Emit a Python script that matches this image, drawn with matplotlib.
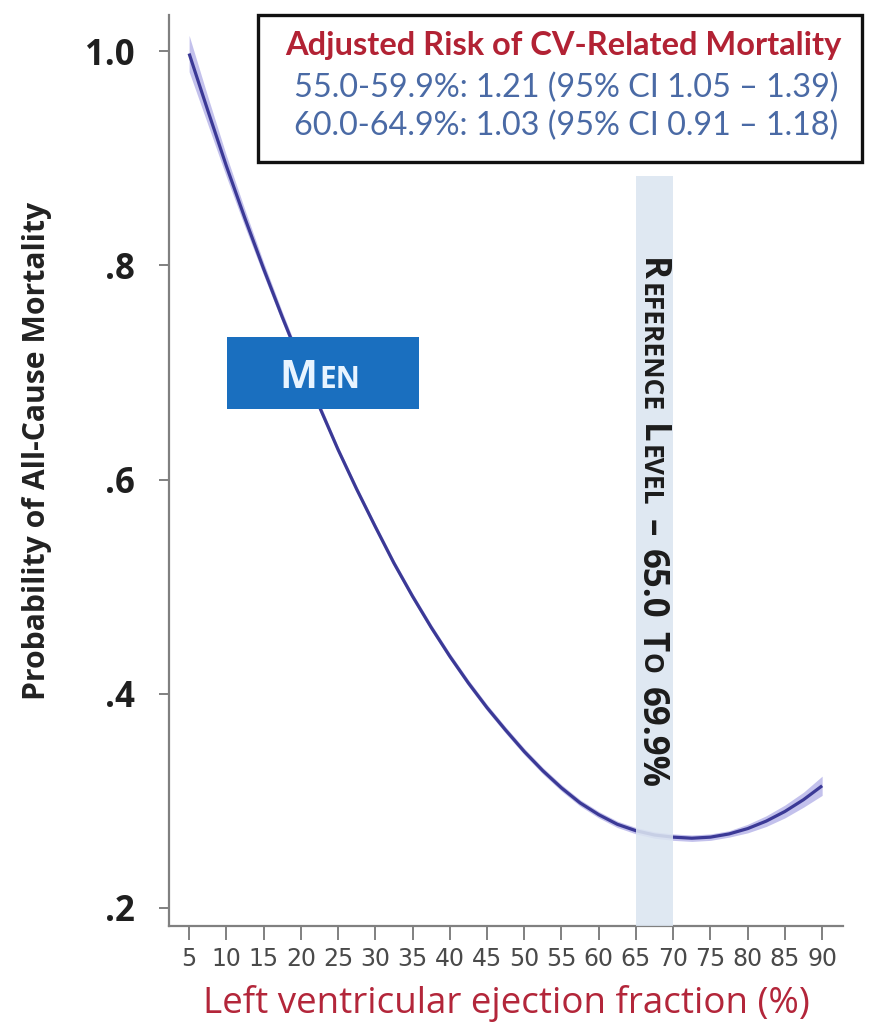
import matplotlib
matplotlib.use("Agg")
import matplotlib.pyplot as plt
from matplotlib.patches import Rectangle

# Ejection fraction (%) and fitted probability of all-cause mortality (men)
ef = [5, 7.5, 10, 12.5, 15, 17.5, 20, 22.5, 25, 27.5, 30, 32.5, 35, 37.5,
      40, 42.5, 45, 47.5, 50, 52.5, 55, 57.5, 60, 62.5, 65, 67.5, 70, 72.5,
      75, 77.5, 80, 82.5, 85, 87.5, 90]
prob = [0.998, 0.945, 0.893, 0.844, 0.797, 0.752, 0.709, 0.668, 0.628, 0.591,
        0.556, 0.522, 0.491, 0.462, 0.435, 0.410, 0.387, 0.366, 0.346, 0.328,
        0.312, 0.298, 0.287, 0.278, 0.272, 0.268, 0.266, 0.265, 0.266, 0.269,
        0.274, 0.281, 0.290, 0.301, 0.314]
ci_half = [0.017, 0.013, 0.010, 0.008, 0.006, 0.005, 0.004, 0.004, 0.003, 0.003,
           0.003, 0.003, 0.003, 0.003, 0.003, 0.003, 0.003, 0.003, 0.003, 0.003,
           0.003, 0.003, 0.003, 0.003, 0.003, 0.003, 0.003, 0.003, 0.003, 0.003,
           0.004, 0.005, 0.006, 0.007, 0.009]

ref_band = [65, 70]
ref_band_top = 0.884

x_ticks = [5, 10, 15, 20, 25, 30, 35, 40, 45, 50, 55, 60, 65, 70, 75, 80, 85, 90]
y_ticks = [0.2, 0.4, 0.6, 0.8, 1.0]
y_tick_labels = [".2", ".4", ".6", ".8", "1.0"]

header_title = "Adjusted Risk of CV-Related Mortality"
header_lines = ["55.0-59.9%: 1.21 (95% CI 1.05 \u2013 1.39)",
                "60.0-64.9%: 1.03 (95% CI 0.91 \u2013 1.18)"]
group_label = [("M", "big"), ("EN", "small")]
ref_label = [("R", "big", 0), ("EFERENCE", "small", 1.2), ("L", "big", 9),
             ("EVEL", "small", 1.2), ("\u2013", "big", 9), ("65.0", "big", 9),
             ("T", "big", 9), ("O", "small", 1.2), ("69.9%", "big", 9)]

W, H = 880, 1032
AX_L, AX_R, AX_T, AX_B = 169, 843, 15, 926

fig = plt.figure(figsize=(W / 100, H / 100), dpi=100)
ax = fig.add_axes([AX_L / W, 1 - AX_B / H, (AX_R - AX_L) / W, (AX_B - AX_T) / H])


def afrac(px, py):
    """Pixel position on the canvas -> axes fraction."""
    return (px - AX_L) / (AX_R - AX_L), (AX_B - py) / (AX_B - AX_T)


def ffrac(px, py):
    return px / W, 1 - py / H


lo = [p - c for p, c in zip(prob, ci_half)]
hi = [p + c for p, c in zip(prob, ci_half)]
ax.fill_between(ef, lo, hi, color="#c3c1ec", lw=0, zorder=2)
ax.plot(ef, prob, color="#3b3996", lw=2.3, zorder=3, solid_capstyle="butt")

ax.fill_between(ref_band, [ax.get_ylim()[0] - 1] * 2, [ref_band_top] * 2,
                color="#dbe5f1", alpha=0.88, lw=0, zorder=4)

ax.set_xlim(2.3, 92.8)
ax.set_ylim(0.183, 1.034)

for side in ("top", "right"):
    ax.spines[side].set_visible(False)
for side in ("left", "bottom"):
    ax.spines[side].set_color("#808080")
    ax.spines[side].set_linewidth(1.6)

ax.set_yticks(y_ticks)
ax.set_yticklabels(y_tick_labels, fontfamily="Open Sans", fontweight="bold",
                   fontsize=25, color="#1f1f1f")
ax.tick_params(axis="y", length=7.5, width=1.4, color="#808080", pad=17)

ax.set_xticks(x_ticks)
ax.set_xticklabels([str(t) for t in x_ticks],
                   fontfamily=["Liberation Sans Narrow", "DejaVu Sans"],
                   fontsize=17, color="#4a4a4a")
ax.tick_params(axis="x", length=10, width=1.4, color="#808080", pad=5)

ax.set_ylabel("Probability of All-Cause Mortality", fontfamily="Open Sans",
              fontweight="bold", fontsize=21.7, color="#222222", va="center")
ax.yaxis.set_label_coords(*afrac(37, 451))
ax.set_xlabel("Left ventricular ejection fraction (%)", fontfamily="Open Sans",
              fontsize=26.5, color="#b3263a", va="center")
ax.xaxis.set_label_coords(*afrac(506, 1004))

# Header box with adjusted risks
bx0, by0, bx1, by1 = 258, 15, 862, 162
fig.patches.append(Rectangle(ffrac(bx0, by1), (bx1 - bx0) / W, (by1 - by0) / H,
                             transform=fig.transFigure, fill=True, fc="white",
                             ec="#111111", lw=2.4, zorder=5))
fig.text(*ffrac(563, 45), header_title, ha="center", va="center",
         fontfamily="Lato", fontweight="bold", fontsize=23.5, color="#b22234",
         zorder=6)
for i, line in enumerate(header_lines):
    fig.text(*ffrac(566, 88 + 38 * i), line, ha="center", va="center",
             fontfamily="Lato", fontsize=23.3, color="#4a6aa5", zorder=6)

# Group tag
mx0, my0, mx1, my1 = 227, 337, 419, 409
ax.add_patch(Rectangle(afrac(mx0, my1), (mx1 - mx0) / (AX_R - AX_L),
                       (my1 - my0) / (AX_B - AX_T), transform=ax.transAxes,
                       fc="#1a6fbf", ec="none", zorder=6))
sizes = {"big": 29, "small": 21.5}
prev = ax.text(*afrac(279, 388), group_label[0][0], transform=ax.transAxes,
               ha="left", va="baseline", fontfamily="Open Sans",
               fontweight="bold", fontsize=sizes[group_label[0][1]],
               color="#e8f4ff", zorder=7)
for txt, sz in group_label[1:]:
    prev = ax.annotate(txt, xy=(1, afrac(0, 388)[1]),
                       xycoords=(prev, ax.transAxes), xytext=(1.5, 0),
                       textcoords="offset points", ha="left", va="baseline",
                       fontfamily="Open Sans", fontweight="bold",
                       fontsize=sizes[sz], color="#e8f4ff", zorder=7)

# Reference level label running down the band
rsizes = {"big": 25, "small": 19}
bx, by = afrac(642, 258)
prev = ax.text(bx, by, ref_label[0][0], transform=ax.transAxes, rotation=-90,
               rotation_mode="anchor", ha="left", va="baseline",
               fontfamily="Open Sans", fontweight="bold",
               fontsize=rsizes[ref_label[0][1]], color="#1c1c1c", zorder=7)
for txt, sz, gap in ref_label[1:]:
    prev = ax.annotate(txt, xy=(bx, 0), xycoords=(ax.transAxes, prev),
                       xytext=(0, -gap), textcoords="offset points",
                       rotation=-90, rotation_mode="anchor", ha="left",
                       va="baseline", fontfamily="Open Sans",
                       fontweight="bold", fontsize=rsizes[sz],
                       color="#1c1c1c", zorder=7)

fig.savefig("out.png", dpi=100, facecolor="white")
